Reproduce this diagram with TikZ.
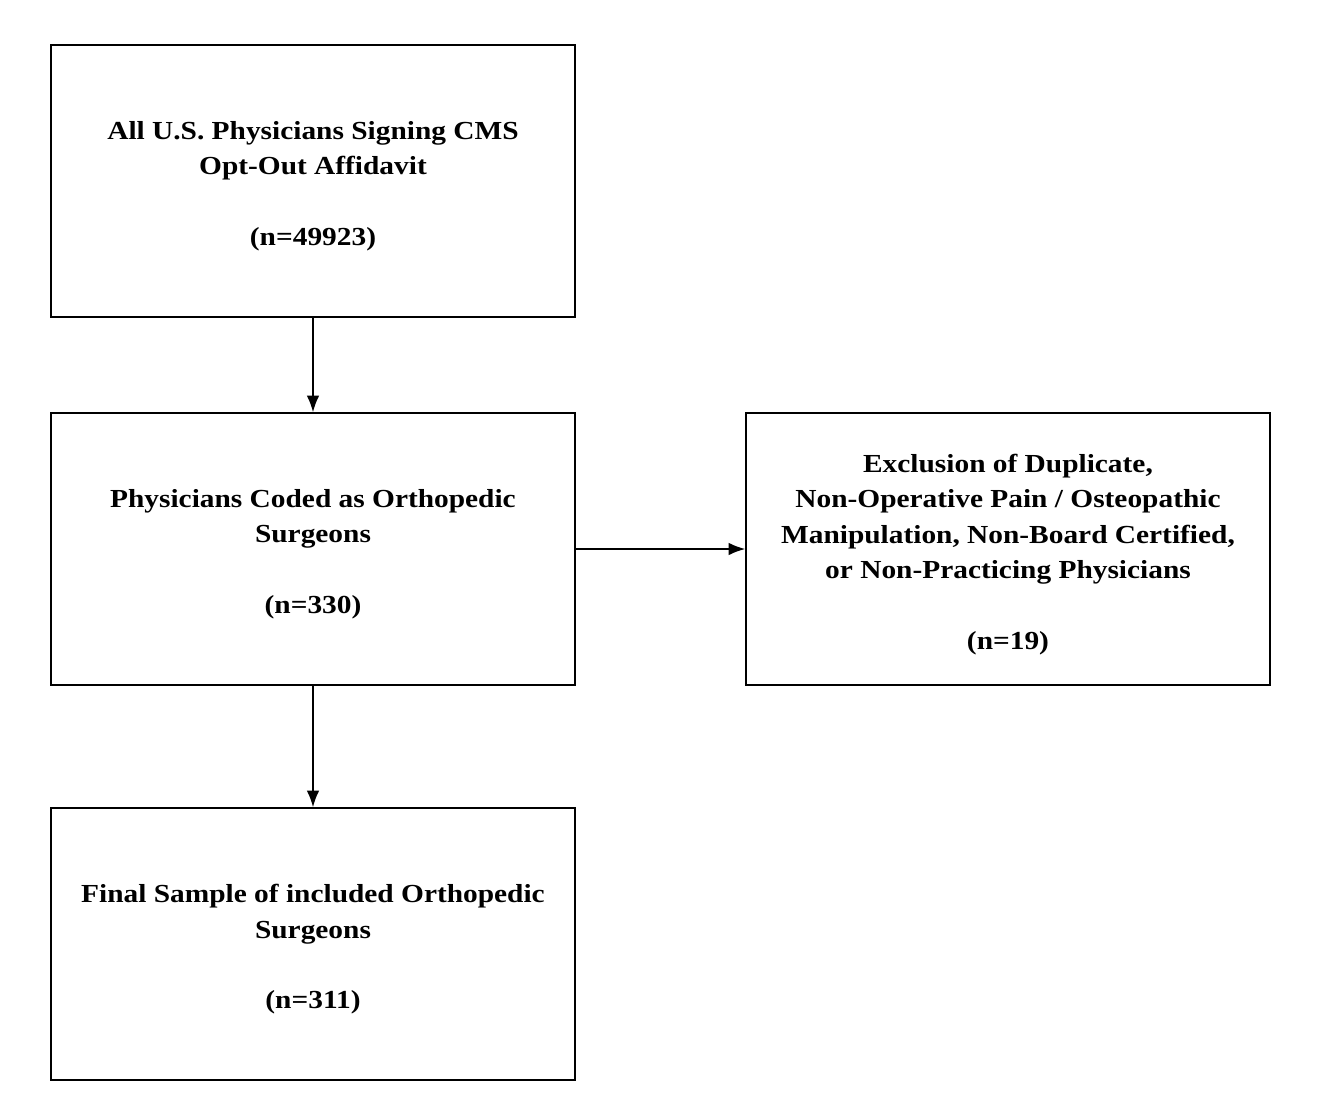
\documentclass[tikz,border=0pt]{standalone}
\usepackage{fontspec}
\setmainfont{Liberation Serif}[FakeStretch=1.13]
\usetikzlibrary{arrows.meta}
\begin{document}
\begin{tikzpicture}[x=0.75pt,y=-0.75pt,
  box/.style={draw, line width=1.2pt, minimum width=393pt, minimum height=204pt,
    inner sep=0pt},
  txt/.style={align=center, inner sep=0pt,
    font=\fontsize{19.5}{26.5}\selectfont\bfseries},
  arr/.style={-{Latex[length=12.5pt,width=9.5pt]}, line width=1.2pt}]
\path[use as bounding box] (0,0) rectangle (1332,1106);
\node[box] (all) at (313,181) {};
\node[box] (coded) at (313,549) {};
\node[box] (final) at (313,944) {};
\node[box] (excl) at (1008,549) {};
\node[txt] (alltxt) at ([yshift=-4pt]all.center) {All U.S. Physicians Signing CMS\\Opt-Out Affidavit\\[26.5pt](n=49923)};
\node[txt] (codedtxt) at ([yshift=-4pt]coded.center) {Physicians Coded as Orthopedic\\Surgeons\\[26.5pt](n=330)};
\node[txt] (finaltxt) at ([yshift=-4pt]final.center) {Final Sample of included Orthopedic\\Surgeons\\[26.5pt](n=311)};
\node[txt] (excltxt) at ([yshift=-4pt]excl.center) {Exclusion of Duplicate,\\Non-Operative Pain / Osteopathic\\Manipulation, Non-Board Certified,\\or Non-Practicing Physicians\\[26.5pt](n=19)};
\draw[arr] (all) -- (coded);
\draw[arr] (coded) -- (final);
\draw[arr] (coded) -- (excl);
\end{tikzpicture}
\end{document}
